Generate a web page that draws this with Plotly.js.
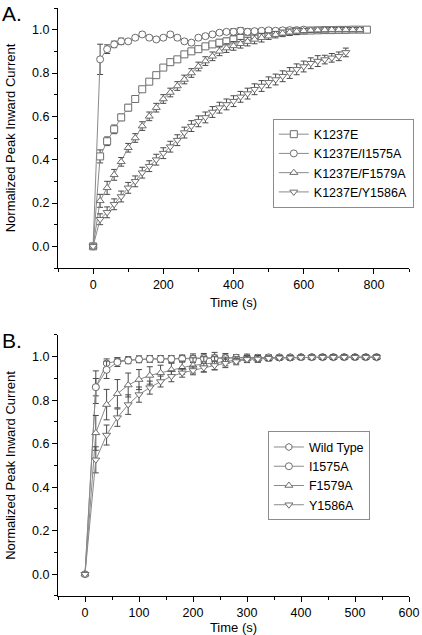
<!DOCTYPE html>
<html>
<head>
<meta charset="utf-8">
<script src="https://cdn.plot.ly/plotly-3.0.1.min.js"></script>
<style>html,body{margin:0;padding:0;background:#fff}#chart{width:422px;height:635px}</style>
</head>
<body>
<div id="chart"></div>
<script>
// ---------- Panel A data ----------
const timeA = [0,20,40,60,80,100,120,140,160,180,200,220,240,260,280,300,320,340,360,380,400,420,440,460,480,500,520,540,560,580,600,620,640,660,680,700,720,740,760,780];
const namesA = ["K1237E", "K1237E/I1575A", "K1237E/F1579A", "K1237E/Y1586A"];
const a_K1237E = [0,0.415,0.485,0.54,0.595,0.64,0.68,0.725,0.76,0.79,0.825,0.85,0.863,0.886,0.90,0.91,0.923,0.932,0.94,0.946,0.955,0.962,0.968,0.975,0.98,0.984,0.987,0.99,0.992,0.994,0.995,0.996,0.997,0.998,0.998,0.999,0.999,1.0,1.0,1.0];
const a_K1237E_err = [0,0.03,0.02,0.02,0.015,0.015,0.015,0.01,0.01,0.01,0.01,0.01,0.01,0.01,0.01,0.01,0.01,0.01,0.015,0.015,0.015,0.015,0.01,0.01,0.01,0.01,0.01,0.01,0.01,0.01,0.01,0.01,0.01,0.01,0.01,0.005,0.005,0.005,0.005,0.005];
const a_I1575A = [0,0.863,0.91,0.932,0.946,0.946,0.963,0.978,0.963,0.955,0.963,0.978,0.963,0.946,0.94,0.963,0.97,0.978,0.986,0.99,0.99,0.995,0.99,0.993,0.995,0.997,0.995,0.997,0.998,0.998,1.0];
const a_I1575A_err = [0,0.07,0.02,0.015,0.015,0.01,0.01,0.01,0.01,0.01,0.01,0.01,0.01,0.01,0.01,0.01,0.01,0.01,0.01,0.01,0.015,0.015,0.015,0.01,0.01,0.01,0.01,0.01,0.01,0.01,0.01];
const a_F1579A = [0,0.21,0.27,0.33,0.39,0.455,0.50,0.555,0.60,0.64,0.68,0.71,0.74,0.77,0.80,0.83,0.855,0.877,0.90,0.915,0.925,0.935,0.945,0.955,0.963,0.97,0.977,0.983,0.988,0.992,0.995,0.997,0.998,0.999,1.0,1.0,1.0,1.0,1.0];
const a_F1579A_err = [0,0.03,0.03,0.025,0.02,0.02,0.02,0.02,0.02,0.02,0.02,0.02,0.02,0.02,0.02,0.02,0.02,0.02,0.02,0.02,0.02,0.02,0.02,0.02,0.02,0.015,0.015,0.015,0.015,0.015,0.01,0.01,0.01,0.01,0.01,0.01,0.01,0.01,0.01];
const a_Y1586A = [0,0.125,0.157,0.194,0.23,0.27,0.30,0.34,0.37,0.40,0.43,0.46,0.49,0.525,0.555,0.577,0.595,0.62,0.64,0.655,0.67,0.69,0.705,0.725,0.74,0.757,0.77,0.785,0.80,0.817,0.83,0.845,0.855,0.862,0.87,0.877,0.895];
const a_Y1586A_err = [0,0.025,0.025,0.025,0.025,0.025,0.025,0.025,0.025,0.025,0.025,0.025,0.025,0.025,0.025,0.025,0.025,0.025,0.025,0.025,0.025,0.025,0.025,0.025,0.025,0.025,0.025,0.025,0.025,0.025,0.025,0.025,0.025,0.02,0.02,0.02,0.02];

// ---------- Panel B data ----------
const timeB = [0,20,40,60,80,100,120,140,160,180,200,220,240,260,280,300,320,340,360,380,400,420,440,460,480,500,520,540];
const namesB = ["Wild Type", "I1575A", "F1579A", "Y1586A"];
const b_WT = [0,0.86,0.97,0.98,0.985,0.988,0.99,0.99,0.99,0.993,0.993,0.995,0.995,0.995,0.995,0.997,0.995,0.995,0.997,0.997,0.998,0.998,0.998,0.998,0.998,0.998,0.998,0.998];
const b_WT_err = [0,0.04,0.02,0.015,0.015,0.015,0.015,0.015,0.015,0.015,0.02,0.02,0.025,0.02,0.015,0.015,0.015,0.015,0.01,0.01,0.01,0.01,0.01,0.01,0.01,0.01,0.01,0.01];
const b_I1575A = [0,0.86,0.94,0.975,0.983,0.988,0.99,0.99,0.99,0.99,0.99,0.993,0.993,0.993,0.995,0.995,0.995,0.997,0.997,0.997,0.998,0.998,0.998,0.998,0.998,0.998,0.998,0.998];
const b_I1575A_err = [0,0.075,0.04,0.02,0.015,0.015,0.015,0.015,0.015,0.015,0.015,0.015,0.015,0.015,0.015,0.01,0.01,0.01,0.01,0.01,0.01,0.01,0.01,0.01,0.01,0.01,0.01,0.01];
const b_F1579A = [0,0.65,0.78,0.83,0.87,0.895,0.914,0.926,0.94,0.95,0.96,0.965,0.97,0.978,0.985,0.99,0.99,0.993,0.995,0.995,0.997,0.997,0.998,0.998,0.998,0.998,0.998,0.998];
const b_F1579A_err = [0,0.08,0.07,0.065,0.055,0.046,0.04,0.035,0.03,0.03,0.035,0.035,0.03,0.02,0.015,0.015,0.015,0.01,0.01,0.01,0.01,0.01,0.01,0.01,0.01,0.01,0.01,0.01];
const b_Y1586A = [0,0.526,0.64,0.72,0.78,0.826,0.858,0.886,0.91,0.926,0.937,0.95,0.96,0.97,0.978,0.988,0.99,0.993,0.995,0.995,0.997,0.997,0.998,0.998,0.998,0.998,0.998,0.998];
const b_Y1586A_err = [0,0.06,0.046,0.04,0.045,0.035,0.03,0.025,0.025,0.02,0.02,0.02,0.02,0.02,0.015,0.015,0.015,0.01,0.01,0.01,0.01,0.01,0.01,0.01,0.01,0.01,0.01,0.01];

const yTickVals = [0, 0.2, 0.4, 0.6, 0.8, 1.0];
const yTickText = ["0.0", "0.2", "0.4", "0.6", "0.8", "1.0"];

const FONT = "Arial, 'Liberation Sans', sans-serif";
const LINE_C = "#8a8a8a", MARK_C = "#6e6e6e", ERR_C = "#4a4a4a";

function series(x, y, err, name, symbol, xa, ya, leg) {
  return {
    type: "scatter", mode: "lines+markers", name: name,
    x: x.slice(0, y.length), y: y, xaxis: xa, yaxis: ya, legend: leg,
    line: {color: LINE_C, width: 1},
    marker: {symbol: symbol, size: 7, color: "#ffffff", line: {color: MARK_C, width: 1}},
    error_y: {type: "data", array: err, visible: true, color: ERR_C, thickness: 1, width: 3},
    cliponaxis: false
  };
}

const traces = [
  series(timeA, a_K1237E, a_K1237E_err, namesA[0], "square", "x", "y", "legend"),
  series(timeA, a_I1575A, a_I1575A_err, namesA[1], "circle", "x", "y", "legend"),
  series(timeA, a_F1579A, a_F1579A_err, namesA[2], "triangle-up", "x", "y", "legend"),
  series(timeA, a_Y1586A, a_Y1586A_err, namesA[3], "triangle-down", "x", "y", "legend"),
  series(timeB, b_WT, b_WT_err, namesB[0], "hexagon", "x2", "y2", "legend2"),
  series(timeB, b_I1575A, b_I1575A_err, namesB[1], "circle", "x2", "y2", "legend2"),
  series(timeB, b_F1579A, b_F1579A_err, namesB[2], "triangle-up", "x2", "y2", "legend2"),
  series(timeB, b_Y1586A, b_Y1586A_err, namesB[3], "triangle-down", "x2", "y2", "legend2")
];

const axisCommon = {
  showline: true, linecolor: "#000", linewidth: 1, mirror: false,
  ticks: "outside", ticklen: 5, tickwidth: 1, tickcolor: "#000",
  showgrid: false, zeroline: false,
  tickfont: {family: FONT, size: 12.5, color: "#000"}
};

const layout = {
  width: 422, height: 635,
  margin: {l: 58, r: 11, t: 8, b: 39},
  paper_bgcolor: "#fff", plot_bgcolor: "#fff",
  font: {family: FONT, color: "#000"},
  showlegend: true,
  xaxis: Object.assign({}, axisCommon, {
    domain: [0, 1], anchor: "y", range: [-100, 900], tick0: 0, dtick: 200,
    minor: {dtick: 100, ticklen: 3, tickcolor: "#000", ticks: "outside"},
    title: {text: "Time (s)", font: {family: FONT, size: 13}, standoff: 6}
  }),
  yaxis: Object.assign({}, axisCommon, {
    domain: [0.5578, 1], anchor: "x", range: [-0.1, 1.1],
    tickvals: yTickVals, ticktext: yTickText,
    minor: {tickvals: [-0.1, 0.1, 0.3, 0.5, 0.7, 0.9, 1.1], ticklen: 3, tickcolor: "#000", ticks: "outside"},
    title: {text: "Normalized Peak Inward Current", font: {family: FONT, size: 13}, standoff: 13}
  }),
  xaxis2: Object.assign({}, axisCommon, {
    domain: [0, 1], anchor: "y2", range: [-50, 600], tick0: 0, dtick: 100,
    minor: {dtick: 50, ticklen: 3, tickcolor: "#000", ticks: "outside"},
    title: {text: "Time (s)", font: {family: FONT, size: 13}, standoff: 6}
  }),
  yaxis2: Object.assign({}, axisCommon, {
    domain: [0, 0.4439], anchor: "x2", range: [-0.1, 1.1],
    tickvals: yTickVals, ticktext: yTickText,
    minor: {tickvals: [-0.1, 0.1, 0.3, 0.5, 0.7, 0.9, 1.1], ticklen: 3, tickcolor: "#000", ticks: "outside"},
    title: {text: "Normalized Peak Inward Current", font: {family: FONT, size: 13}, standoff: 13}
  }),
  legend: {
    x: 0.612, y: 0.812, xanchor: "left", yanchor: "top",
    bgcolor: "#fff", bordercolor: "#8c8c8c", borderwidth: 1,
    font: {family: FONT, size: 12.5, color: "#000"}, itemwidth: 30, tracegroupgap: 0
  },
  legend2: {
    x: 0.598, y: 0.28, xanchor: "left", yanchor: "top",
    bgcolor: "#fff", bordercolor: "#8c8c8c", borderwidth: 1,
    font: {family: FONT, size: 12.5, color: "#000"}, itemwidth: 30, tracegroupgap: 0
  },
  annotations: [
    {text: "A.", xref: "paper", yref: "paper", x: -0.164, y: 0.9898, xanchor: "left", yanchor: "middle", showarrow: false, font: {family: FONT, size: 21, color: "#000"}},
    {text: "B.", xref: "paper", yref: "paper", x: -0.164, y: 0.4337, xanchor: "left", yanchor: "middle", showarrow: false, font: {family: FONT, size: 21, color: "#000"}}
  ]
};

Plotly.newPlot("chart", traces, layout, {displayModeBar: false, staticPlot: true});
</script>
</body>
</html>
